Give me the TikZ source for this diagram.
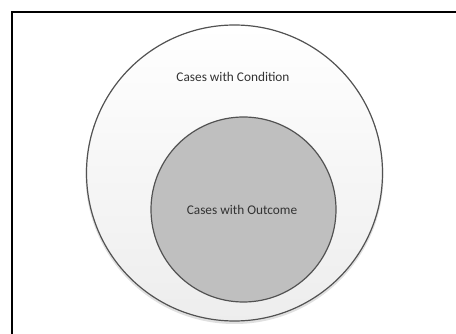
\documentclass[tikz,border=0pt]{standalone}
\usepackage{fontspec}
\setmainfont{Carlito}
\begin{document}
\begin{tikzpicture}[x=1pt,y=-1pt,
  ring/.style={draw=black!68, line width=1.2pt},
  lbl/.style={font=\fontsize{13.3}{15}\selectfont, text=black!80}]
\useasboundingbox (0,0) rectangle (456,334);
\clip (0,0) rectangle (456,334);
% frame
\draw[line width=2pt] (12,350) -- (12,12) -- (470,12);
% soft shadows
\fill[black, opacity=0.12] (234.5,175) circle (149);
\fill[black, opacity=0.10] (243.5,211) circle (93.5);
% outer set
\shade[top color=white, bottom color=black!7] (234.5,173) circle (148);
\draw[ring] (234.5,173) circle (148);
\node[lbl] (cond) at (233,77) {Cases with Condition};
% inner set
\fill[black!25] (243.5,209.5) circle (92.5);
\draw[ring] (243.5,209.5) circle (92.5);
\node[lbl] (outc) at (242,210) {Cases with Outcome};
\end{tikzpicture}
\end{document}
